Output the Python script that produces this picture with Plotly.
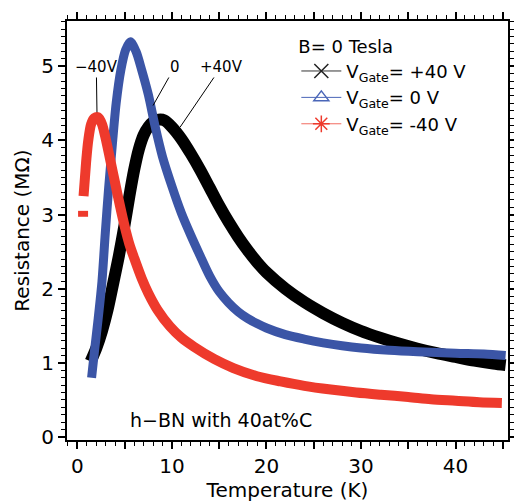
import plotly.graph_objects as go

# ---- data ----
t_pos40 = [1.4, 2.0, 2.6, 3.2, 3.8, 4.4, 5.0, 5.5, 6.0, 6.5, 7.0, 7.5, 8.0, 8.6, 9.2, 10.0, 11.0,
           12.0, 13.0, 14.0, 15.0, 16.0, 17.0, 18.0, 19.0, 20.0, 22.0, 24.0, 26.0, 28.0, 30.0,
           32.0, 34.0, 36.0, 38.0, 40.0, 42.0, 44.0, 45.3]
r_pos40 = [1.02, 1.2, 1.43, 1.72, 2.08, 2.45, 2.87, 3.25, 3.6, 3.88, 4.07, 4.18, 4.25, 4.28, 4.27,
           4.18, 4.02, 3.82, 3.6, 3.36, 3.12, 2.9, 2.7, 2.52, 2.36, 2.22, 2.0, 1.82, 1.67, 1.54,
           1.43, 1.34, 1.26, 1.19, 1.13, 1.08, 1.03, 0.99, 0.97]

t_zero = [1.5, 1.8, 2.2, 2.6, 2.95, 3.3, 3.7, 4.1, 4.6, 5.1, 5.6, 6.2, 6.8, 7.5, 8.2, 9.0, 10.0,
          11.0, 12.0, 13.0, 14.0, 15.0, 16.0, 17.0, 18.0, 19.0, 20.0, 22.0, 24.0, 26.0, 28.0,
          30.0, 33.0, 36.0, 40.0, 43.0, 45.3]
r_zero = [0.8, 1.15, 1.6, 2.1, 2.75, 3.35, 3.95, 4.5, 4.95, 5.22, 5.33, 5.2, 4.95, 4.62, 4.2, 3.78,
          3.38, 3.02, 2.72, 2.44, 2.17, 1.96, 1.81, 1.69, 1.6, 1.53, 1.47, 1.38, 1.32, 1.27, 1.23,
          1.2, 1.17, 1.15, 1.13, 1.12, 1.1]

t_neg40 = [0.6, 0.6, None, 0.65, 0.8, 0.95, 1.15, 1.45, 1.8, 2.2, 2.6, 3.0, 3.5, 4.0, 4.5, 5.0,
           5.5, 6.1, 6.8, 7.5, 8.5, 9.8, 11.0, 12.3, 14.5, 16.5, 19.0, 21.5, 24.0, 26.8, 29.5,
           32.1, 35.0, 37.4, 40.0, 42.5, 44.9]
r_neg40 = [2.97, 3.05, None, 3.25, 3.5, 3.75, 4.0, 4.22, 4.3, 4.31, 4.22, 4.02, 3.72, 3.42, 3.12,
           2.84, 2.6, 2.38, 2.14, 1.94, 1.71, 1.49, 1.34, 1.22, 1.05, 0.93, 0.82, 0.75, 0.69,
           0.64, 0.6, 0.57, 0.54, 0.51, 0.49, 0.47, 0.46]

x_label_vals = [0, 10, 20, 30, 40]
x_mid_vals = [5, 15, 25, 35, 45]
y_tickvals = [0, 1, 2, 3, 4, 5]

series_names = ["V<sub>Gate</sub>= +40 V", "V<sub>Gate</sub>= 0 V", "V<sub>Gate</sub>= -40 V"]
BLACK, BLUE, RED = "#000000", "#3b55a6", "#ee3a2c"

FONT = "DejaVu Sans, Verdana, sans-serif"

fig = go.Figure()

# thick data curves
fig.add_trace(go.Scatter(x=t_pos40, y=r_pos40, mode="lines",
                         line=dict(color=BLACK, width=12, shape="spline", smoothing=0.8),
                         showlegend=False, hoverinfo="skip"))
fig.add_trace(go.Scatter(x=t_zero, y=r_zero, mode="lines",
                         line=dict(color=BLUE, width=9, shape="spline", smoothing=0.8),
                         showlegend=False, hoverinfo="skip"))
fig.add_trace(go.Scatter(x=t_neg40, y=r_neg40, mode="lines",
                         line=dict(color=RED, width=10, shape="spline", smoothing=0.8),
                         showlegend=False, hoverinfo="skip", connectgaps=False))

# legend entries
fig.add_trace(go.Scatter(x=[None], y=[None], mode="lines+markers", name=series_names[0],
                         line=dict(color="#333333", width=1),
                         marker=dict(symbol="x-thin-open", size=14, color="#222222",
                                     line=dict(width=1.5, color="#222222"))))
fig.add_trace(go.Scatter(x=[None], y=[None], mode="lines+markers", name=series_names[1],
                         line=dict(color="#4a66b8", width=1),
                         marker=dict(symbol="triangle-up-open", size=13, color="#4a66b8",
                                     line=dict(width=1.5, color="#4a66b8"))))
fig.add_trace(go.Scatter(x=[None], y=[None], mode="lines+markers", name=series_names[2],
                         line=dict(color="#f26b60", width=1),
                         marker=dict(symbol="asterisk-open", size=14, color="#ee3a2c",
                                     line=dict(width=1.5, color="#ee3a2c"))))
# helper trace so the secondary (mid-tick) x axis is drawn
fig.add_trace(go.Scatter(x=[None], y=[None], xaxis="x2", showlegend=False, hoverinfo="skip"))

ann_font = dict(family=FONT, size=15, color="black")
fig.add_annotation(x=2.07, y=4.38, ax=2.0, ay=4.99, axref="x", ayref="y", text="−40V",
                   showarrow=True, arrowhead=0, arrowwidth=1, arrowcolor="black", font=ann_font)
fig.add_annotation(x=8.0, y=4.47, ax=10.3, ay=4.99, axref="x", ayref="y", text="0",
                   showarrow=True, arrowhead=0, arrowwidth=1, arrowcolor="black", font=ann_font)
fig.add_annotation(x=10.87, y=4.18, ax=15.2, ay=4.99, axref="x", ayref="y", text="+40V",
                   showarrow=True, arrowhead=0, arrowwidth=1, arrowcolor="black", font=ann_font)
fig.add_annotation(x=5.3, y=0.23, xanchor="left", yanchor="middle", text="h−BN with 40at%C",
                   showarrow=False, font=dict(family=FONT, size=19, color="black"))

axis_common = dict(showline=True, linewidth=2, linecolor="black", mirror="ticks",
                   ticks="outside", ticklen=7, tickwidth=1.5, tickcolor="black",
                   showgrid=False, zeroline=False,
                   tickfont=dict(family=FONT, size=20, color="black"))

XR = [-1.1, 45.55]
fig.update_layout(
    xaxis=dict(range=XR, tickmode="array", tickvals=x_label_vals,
               minor=dict(dtick=1, ticklen=4, tickwidth=1.2, tickcolor="black", ticks="outside",
                          showgrid=False),
               title=dict(text="Temperature (K)", font=dict(family=FONT, size=20, color="black"),
                          standoff=4),
               **axis_common),
    xaxis2=dict(range=XR, overlaying="x", side="bottom", anchor="y", tickmode="array",
                tickvals=x_mid_vals, showticklabels=False, showline=True, linewidth=2,
                linecolor="black", mirror="ticks", ticks="outside", ticklen=7, tickwidth=1.5,
                tickcolor="black", showgrid=False, zeroline=False),
    yaxis=dict(range=[-0.04, 5.61], tickmode="array", tickvals=y_tickvals,
               minor=dict(dtick=0.1, ticklen=4, tickwidth=1.2, tickcolor="black", ticks="outside",
                          showgrid=False),
               title=dict(text="Resistance (MΩ)", font=dict(family=FONT, size=20, color="black"),
                          standoff=6),
               **axis_common),
)

fig.update_layout(width=514, height=504,
                  margin=dict(l=67, r=6, t=21, b=64, autoexpand=False),
                  paper_bgcolor="white", plot_bgcolor="white",
                  font=dict(family=FONT, color="black"),
                  legend=dict(x=0.52, y=0.98, xanchor="left", yanchor="top",
                              bgcolor="rgba(0,0,0,0)", borderwidth=0,
                              font=dict(family=FONT, size=18, color="black"),
                              title=dict(text="B= 0 Tesla",
                                         font=dict(family=FONT, size=18, color="black")),
                              itemwidth=40, tracegroupgap=0))

fig.write_html("out.html", config={"displayModeBar": False},
               post_script="document.body.style.margin='0';")
